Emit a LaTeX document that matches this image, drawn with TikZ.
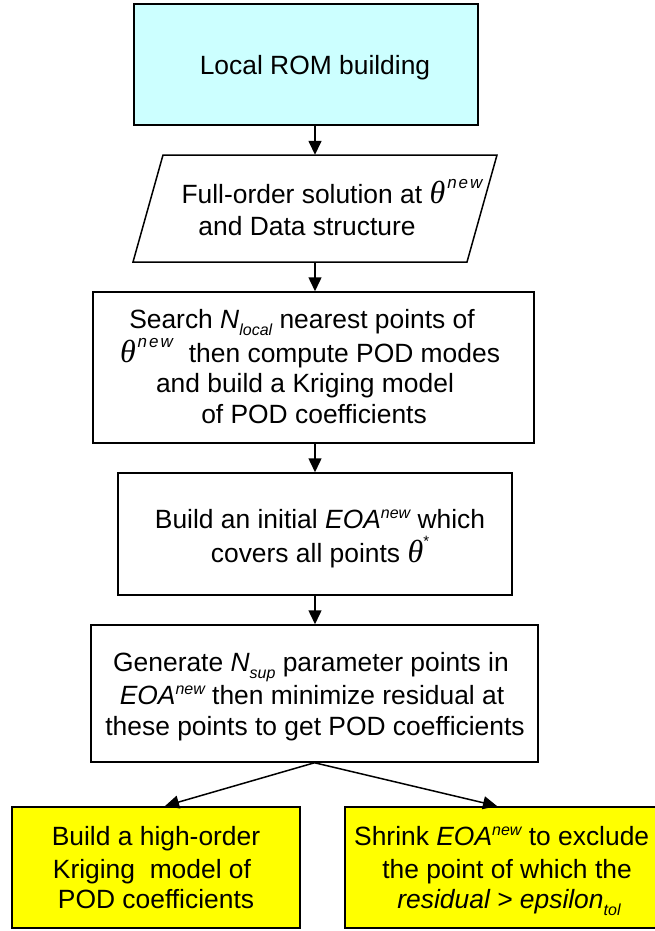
\documentclass[tikz,border=0pt]{standalone}
\usepackage{fontspec}
\setmainfont{Liberation Sans}
\newfontfamily\thetafont{Liberation Serif}
\usetikzlibrary{arrows.meta,calc}

\definecolor{romcyan}{HTML}{CCFFFF}
\definecolor{resyellow}{HTML}{FFFF00}

% theta with a spaced superscript "new"
\newcommand\thetaglyph{{\thetafont\itshape\fontsize{32}{32}\selectfont θ}}
\newcommand\thnew{\thetaglyph\raisebox{15pt}{\fontsize{17}{17}\selectfont\itshape\kern2pt n\kern2pt e\kern2pt w}}
\newcommand\thstar{\thetaglyph\raisebox{16pt}{\fontsize{15}{15}\selectfont *}}
\newcommand\eoanew{\textit{EOA}\raisebox{10pt}{\fontsize{16}{16}\selectfont\itshape new}}
\newcommand\lowtxt[1]{\raisebox{-7pt}{\fontsize{16}{16}\selectfont\itshape #1}}

\begin{document}
\begin{tikzpicture}[x=1pt,y=-1pt,
  box/.style={draw=black,line width=1.5pt,inner sep=0pt,fill=white},
  hot/.style={draw=black,line width=2pt,inner sep=0pt,fill=resyellow},
  txt/.style={inner sep=0pt,anchor=base,font=\fontsize{26.4}{32}\selectfont},
  flow/.style={line width=1.5pt,-{Triangle[length=14pt,width=13pt]}}]

\useasboundingbox (0,0) rectangle (654,931);

% boxes
\node[box,fill=romcyan,minimum width=344pt,minimum height=121pt] (b1) at (306,64.5) {};
\draw[line width=1.5pt,fill=white] (163,155) -- (497,155) -- (467,262) -- (133,262) -- cycle;
\node[inner sep=0pt,minimum width=334pt,minimum height=107pt] (io) at (315,208.5) {};
\node[box,minimum width=441pt,minimum height=151pt] (b3) at (313.5,367.5) {};
\node[box,minimum width=394pt,minimum height=122pt] (b4) at (315,534) {};
\node[box,minimum width=447pt,minimum height=137pt] (b5) at (314.5,693.5) {};
\node[hot,minimum width=288pt,minimum height=121pt] (yl) at (156,867.5) {};
\node[hot,minimum width=324pt,minimum height=121pt] (yr) at (507,867.5) {};

% connectors
\draw[flow] (b1.south -| io.north) -- (io.north);
\draw[flow] (io.south) -- (io.south |- b3.north);
\draw[flow] (io.south |- b3.south) -- (io.south |- b4.north);
\draw[flow] (io.south |- b4.south) -- (io.south |- b5.north);
\draw[flow] (b5.south) -- ($(yl.north)+(9,0)$);
\draw[flow] (b5.south) -- ($(yr.north)+(-10,0)$);

% texts
\node[txt] (t1) at (315,75) {Local ROM building};

\node[txt] (t2a) at (332,203) {Full-order solution at \thnew};
\node[txt] (t2b) at (307,235) {and Data structure};

\node[txt] (t3a) at (302,328) {Search \textit{N}\lowtxt{local} nearest points of};
\node[txt] (t3b) at (310,362) {\thnew\hspace{16pt}then compute POD modes};
\node[txt] (t3c) at (305,392) {and build a Kriging model};
\node[txt] (t3d) at (314,423) {of POD coefficients};

\node[txt] (t4a) at (320,528) {Build an initial \eoanew\ which};
\node[txt] (t4b) at (320,562) {covers all points \thstar};

\node[txt] (t5a) at (311,671) {Generate \textit{N}\lowtxt{sup} parameter points in};
\node[txt] (t5b) at (312,704) {\eoanew\ then minimize residual at};
\node[txt] (t5c) at (315,735) {these points to get POD coefficients};

\node[txt] (t6a) at (156,845) {Build a high-order};
\node[txt] (t6b) at (152,878) {Kriging\ \ model of};
\node[txt] (t6c) at (156,908) {POD coefficients};

\node[txt,anchor=base west] (t7a) at (354,845) {Shrink \eoanew\ to exclude};
\node[txt] (t7b) at (507,878) {the point of which the};
\node[txt] (t7c) at (509,908) {\textit{residual > epsilon}\lowtxt{tol}};
\end{tikzpicture}
\end{document}
